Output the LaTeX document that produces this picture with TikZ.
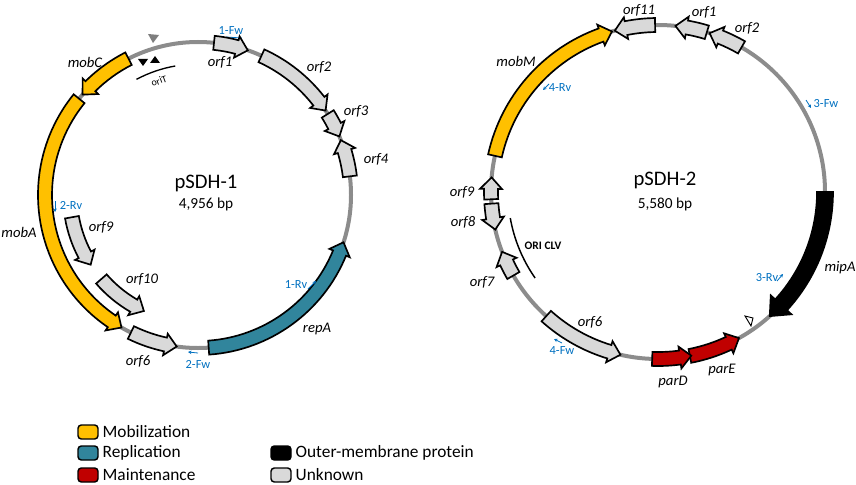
\documentclass[tikz,border=0pt]{standalone}
\usepackage{fontspec}
\setmainfont{Carlito}
\usetikzlibrary{arrows.meta, positioning}

\definecolor{mobcol}{RGB}{255,192,0}
\definecolor{repcol}{RGB}{49,133,156}
\definecolor{maintcol}{RGB}{192,0,0}
\definecolor{unkcol}{RGB}{217,217,217}
\definecolor{backbone}{RGB}{140,140,140}
\definecolor{primer}{RGB}{0,112,192}

\tikzset{
  gene/.style={draw=black, line width=1.25pt, line join=miter},
  genelabel/.style={font=\fontsize{11}{13}\selectfont\itshape, inner sep=0.75pt},
  primerlabel/.style={font=\fontsize{9.3}{11}\selectfont, text=primer, inner sep=0.75pt},
  primerarrow/.style={draw=primer, line width=0.6pt, -{Stealth[length=2.6pt,width=2.6pt]}},
  legendbox/.style={draw=black, line width=1.1pt, rounded corners=2.5pt, minimum width=15pt, minimum height=10.5pt, inner sep=0pt},
  legendtext/.style={font=\fontsize{13}{15}\selectfont, inner sep=0.75pt, anchor=west},
}

% shaft half width, head half width, head length (px)
\newcommand\ghw{7}
\newcommand\ghh{11}
\newcommand\ghl{11.5}
% gene arrow: centre, radius, tail angle, tip angle, fill
\newcommand\genearrow[5]{%
  \pgfmathsetmacro\gsgn{(#4>#3)?1:-1}%
  \pgfmathsetmacro\gs{-(#3)}%
  \pgfmathsetmacro\gt{-(#4)}%
  \pgfmathsetmacro\gnk{-(#4-\gsgn*\ghl/#2*57.2958)}%
  \pgfmathsetmacro\gin{#2-\ghw}\pgfmathsetmacro\gout{#2+\ghw}%
  \pgfmathsetmacro\hin{#2-\ghh}\pgfmathsetmacro\hout{#2+\ghh}%
  \draw[gene, fill=#5, shift={(#1)}] (\gs:\gout) arc[start angle=\gs, end angle=\gnk, radius=\gout]
    -- (\gnk:\hout) -- (\gt:#2) -- (\gnk:\hin) -- (\gnk:\gin)
    arc[start angle=\gnk, end angle=\gs, radius=\gin] -- cycle;
}

\begin{document}
\begin{tikzpicture}[x=0.75pt,y=0.75pt,yscale=-1]
\useasboundingbox (0,0) rectangle (856,485);

%% ---------------- pSDH-1 ----------------
\coordinate (L) at (198,195);
\draw[backbone, line width=3pt] (L) circle[radius=153];

% oriT
\fill[backbone!90!black] (148,34) -- (159,35) -- (153,43) -- cycle;
\fill (138,59) -- (148,59) -- (143,66) -- cycle;
\fill (150,63) -- (160,63) -- (155,56) -- cycle;
\draw[line width=1pt, shift={(L)}] (-100:131) arc[start angle=-100, end angle=-118, radius=131];
\node[font=\fontsize{7.5}{9}\selectfont, rotate=20, inner sep=0.5pt] (loriT) at (159,81) {oriT};

% primers
\draw[primerarrow] (226,37) -- (242,38);
\draw[primerarrow] (55,201) -- (55,212);
\draw[primerarrow] (198,353) -- (188,352);

% genes
\genearrow{L}{153}{141}{240}{mobcol}
\genearrow{L}{153}{117}{139}{mobcol}
\genearrow{L}{153}{84}{71}{unkcol}
\genearrow{L}{153}{65.5}{33.5}{unkcol}
\genearrow{L}{153}{32}{22.5}{unkcol}
\genearrow{L}{153}{7}{21}{unkcol}
\genearrow{L}{153}{-86}{-18}{repcol}
\genearrow{L}{153}{244}{262}{unkcol}
\genearrow{L}{128}{190}{213}{unkcol}
\genearrow{L}{128}{221}{245}{unkcol}
\draw[primerarrow] (308,289) -- (316,281);

% labels
\node[font=\fontsize{15.5}{18}\selectfont, inner sep=0pt] (lname) at (206,183) {pSDH-1};
\node[font=\fontsize{11.5}{13}\selectfont, inner sep=0pt] (lsize) at (206,204) {4,956 bp};
\node[genelabel] (lmobC) at (85,62) {mobC};
\node[genelabel] (lorf1) at (220,62) {orf1};
\node[genelabel] (lorf2) at (319,67) {orf2};
\node[genelabel] (lorf3) at (356,111) {orf3};
\node[genelabel] (lorf4) at (376,159) {orf4};
\node[genelabel] (lmobA) at (19,232) {mobA};
\node[genelabel] (lorf9) at (101,227) {orf9};
\node[genelabel] (lorf10) at (142,279) {orf10};
\node[genelabel] (lorf6) at (138,361) {orf6};
\node[genelabel] (lrepA) at (317,329) {repA};
\node[primerlabel] (p1Fw) at (231,31) {1-Fw};
\node[primerlabel] (p2Rv) at (71,205) {2-Rv};
\node[primerlabel] (p2Fw) at (198,364) {2-Fw};
\node[primerlabel] (p1Rv) at (296,285) {1-Rv};

%% ---------------- pSDH-2 ----------------
\coordinate (R) at (658,192);
\draw[backbone, line width=3pt] (R) circle[radius=167];

% ORI CLV
\draw[line width=1.1pt, shift={(R)}] (-190:150) arc[start angle=-190, end angle=-215, radius=150];
\node[font=\fontsize{8.6}{10}\selectfont\bfseries, inner sep=0.5pt] (roriclv) at (543,246) {ORI CLV};
\draw[fill=white, line width=0.7pt] (745,316) -- (753,318) -- (751,326) -- cycle;

% primers
\draw[primerarrow] (549,84) -- (543,90);
\draw[primerarrow] (806,100) -- (811,108);
\draw[primerarrow] (777,281) -- (783,274);
\draw[primerarrow] (562,343) -- (554,339);

% genes
\genearrow{R}{167}{167.5}{106}{mobcol}
\genearrow{R}{167}{91}{105}{unkcol}
\genearrow{R}{167}{73}{84}{unkcol}
\genearrow{R}{167}{60}{72}{unkcol}
{\renewcommand\ghw{8}\renewcommand\ghh{14}\renewcommand\ghl{16}%
\genearrow{R}{167}{0}{-48}{black}}
\genearrow{R}{167}{-79}{-61}{maintcol}
\genearrow{R}{167}{-92}{-78.5}{maintcol}
\genearrow{R}{167}{228}{257}{unkcol}
\genearrow{R}{167}{210}{201}{unkcol}
\genearrow{R}{167}{184}{193}{unkcol}
\genearrow{R}{167}{182.5}{175}{unkcol}

% labels
\node[font=\fontsize{15.5}{18}\selectfont, inner sep=0pt] (rname) at (665,180) {pSDH-2};
\node[font=\fontsize{11.5}{13}\selectfont, inner sep=0pt] (rsize) at (665,204) {5,580 bp};
\node[genelabel] (rorf11) at (639,10) {orf11};
\node[genelabel] (rorf1) at (704,12) {orf1};
\node[genelabel] (rorf2) at (747,28) {orf2};
\node[genelabel] (rmobM) at (516,61) {mobM};
\node[genelabel] (rorf9) at (462,192) {orf9};
\node[genelabel] (rorf8) at (463,222) {orf8};
\node[genelabel] (rorf7) at (482,282) {orf7};
\node[genelabel] (rorf6) at (590,322) {orf6};
\node[genelabel] (rmipA) at (840,268) {mipA};
\node[genelabel] (rparE) at (722,370) {parE};
\node[genelabel] (rparD) at (673,382) {parD};
\node[primerlabel] (p4Rv) at (560,88) {4-Rv};
\node[primerlabel] (p3Fw) at (826,104) {3-Fw};
\node[primerlabel] (p3Rv) at (767,278) {3-Rv};
\node[primerlabel] (p4Fw) at (562,351) {4-Fw};

%% ---------------- legend ----------------
\node[legendbox, fill=mobcol] (kmob) at (88,432) {};
\node[legendbox, fill=repcol] (krep) at (88,453) {};
\node[legendbox, fill=maintcol] (kmaint) at (88,475) {};
\node[legendbox, fill=black] (komp) at (281,453) {};
\node[legendbox, fill=unkcol] (kunk) at (281,475) {};
\node[legendtext, right=2pt of kmob] (tmob) {Mobilization};
\node[legendtext, right=2pt of krep] (trep) {Replication};
\node[legendtext, right=2pt of kmaint] (tmaint) {Maintenance};
\node[legendtext, right=2pt of komp] (tomp) {Outer-membrane protein};
\node[legendtext, right=2pt of kunk] (tunk) {Unknown};

\end{tikzpicture}
\end{document}
